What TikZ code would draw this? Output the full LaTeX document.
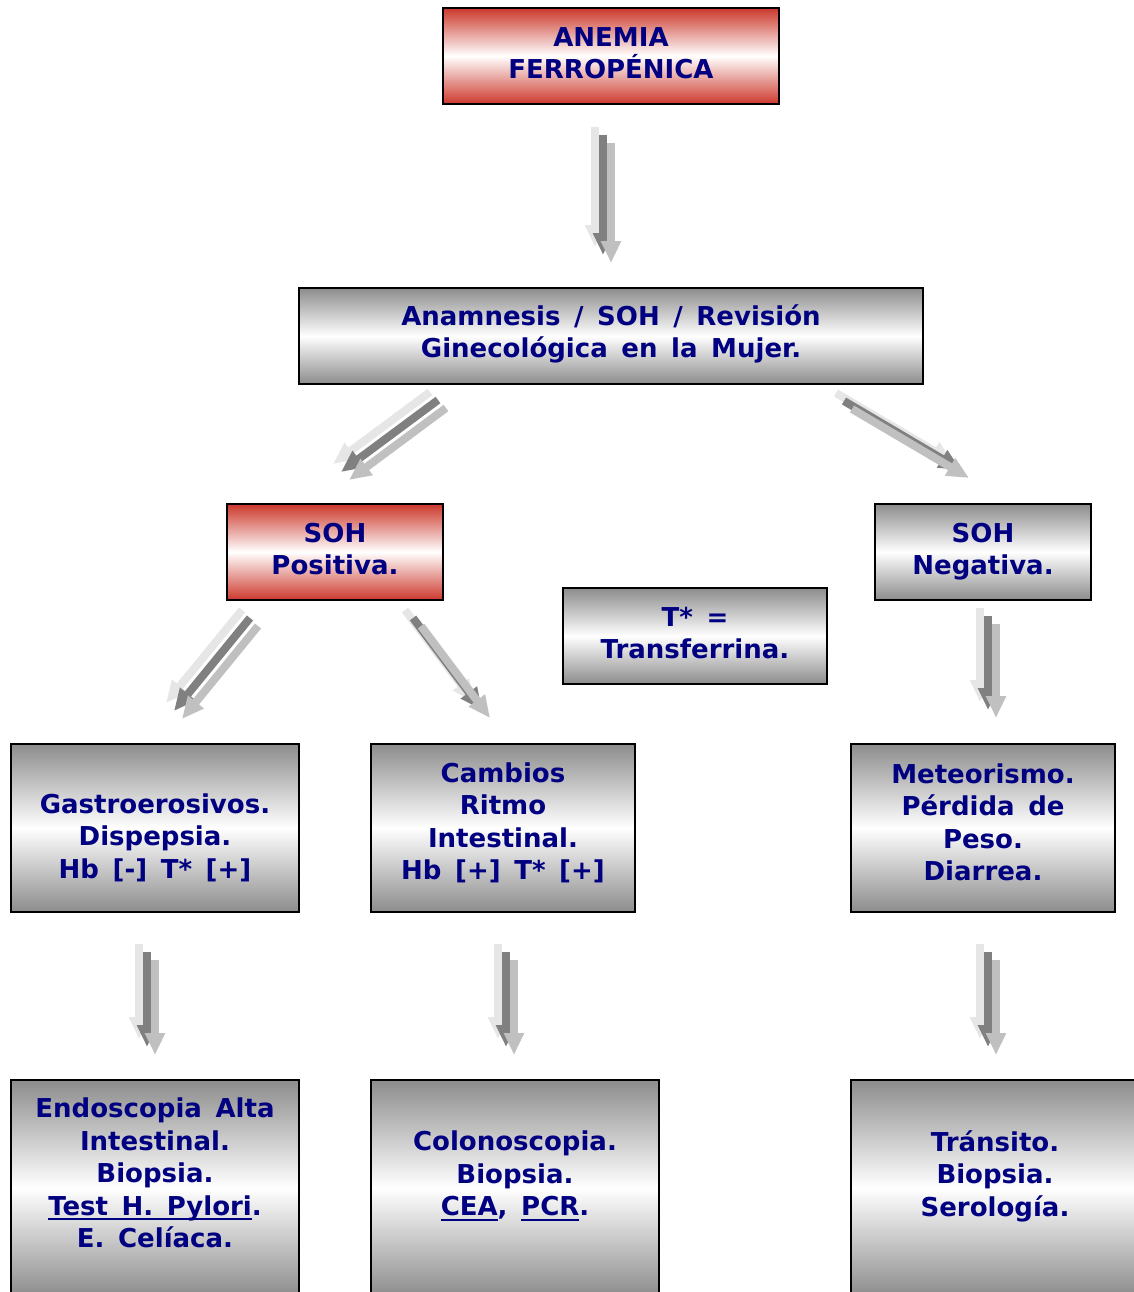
\documentclass[tikz,border=0pt]{standalone}
\usepackage{fontspec}
\usetikzlibrary{arrows.meta}

\newfontfamily\verdana[WordSpace=1.5]{DejaVu Sans}
% 下划线（粗一点）
\newcommand{\subr}[1]{\setbox0\hbox{#1}\rlap{\rule[-5pt]{\wd0}{2pt}}\box0}

\definecolor{azul}{RGB}{0,0,128}
\definecolor{rojo}{RGB}{204,56,44}
\definecolor{grisbox}{RGB}{140,140,140}
\definecolor{gris1}{RGB}{230,230,230}
\definecolor{gris2}{RGB}{128,128,128}
\definecolor{gris3}{RGB}{192,192,192}

\tikzset{
  caja/.style={draw=black, line width=2.2pt, align=center, inner sep=0pt,
    text=azul, font=\verdana\bfseries\fontsize{26}{32.5}\selectfont},
  cajaroja/.style={caja, top color=rojo, bottom color=rojo, middle color=white},
  cajagris/.style={caja, top color=grisbox, bottom color=grisbox, middle color=white},
  % 文字上移：末行加深度
  subir/.style={execute at end node={\rule[-#1]{0pt}{0pt}}},
  flecha/.style={line width=8pt, -{Triangle[width=19pt,length=22pt]}},
}

% 三层灰色箭头：浅 / 深 / 中，各错开 (8,8)
\newcommand{\flechas}[2]{%
  \draw[flecha, gris1] (#1) -- (#2);
  \draw[flecha, gris2, transform canvas={shift={(8,8)}}] (#1) -- (#2);
  \draw[flecha, gris3, transform canvas={shift={(16,16)}}] (#1) -- (#2);
}

\begin{document}
\begin{tikzpicture}[x=1pt, y=-1pt]

  %% ════ 方框 ════
  \node[cajaroja, subir=6pt, minimum width=336pt, minimum height=96pt] (anemia) at (611,56)
    {ANEMIA\\FERROPÉNICA};
  \node[cajagris, subir=9.5pt, minimum width=624pt, minimum height=96pt] (anamnesis) at (611,336)
    {Anamnesis / SOH / Revisión\\Ginecológica en la Mujer.};
  \node[cajaroja, subir=6pt, minimum width=216pt, minimum height=96pt] (sohpos) at (335,552)
    {SOH\\Positiva.};
  \node[cajagris, subir=6pt, minimum width=216pt, minimum height=96pt] (sohneg) at (983,552)
    {SOH\\Negativa.};
  \node[cajagris, subir=6pt, minimum width=264pt, minimum height=96pt] (transf) at (695,636)
    {T* =\\Transferrina.};
  % 这个框文字偏下：首行加高度
  \node[cajagris, minimum width=288pt, minimum height=168pt] (gastro) at (155,828)
    {\rule{0pt}{39pt}Gastroerosivos.\\Dispepsia.\\Hb [-] T* [+]};
  \node[cajagris, subir=13.4pt, minimum width=264pt, minimum height=168pt] (cambios) at (503,828)
    {Cambios\\Ritmo\\Intestinal.\\Hb [+] T* [+]};
  \node[cajagris, subir=12pt, minimum width=264pt, minimum height=168pt] (meteor) at (983,828)
    {Meteorismo.\\Pérdida de\\Peso.\\Diarrea.};
  \node[cajagris, subir=30pt, minimum width=288pt, minimum height=216pt] (endosc) at (155,1188)
    {Endoscopia Alta\\Intestinal.\\Biopsia.\\\subr{Test H. Pylori}.\\E. Celíaca.};
  \node[cajagris, subir=29pt, minimum width=288pt, minimum height=216pt] (colono) at (515,1188)
    {Colonoscopia.\\Biopsia.\\\subr{CEA}, \subr{PCR}.};
  \node[cajagris, subir=29.5pt, minimum width=288pt, minimum height=216pt] (transito) at (995,1188)
    {Tránsito.\\Biopsia.\\Serología.};

  %% ════ 箭头端点 ════
  \coordinate (a1) at (595,127);  \coordinate (b1) at (595,247);
  \coordinate (a2) at (430,392);  \coordinate (b2) at (333,464);
  \coordinate (a3) at (836,393);  \coordinate (b3) at (953,462);
  \coordinate (a4) at (242,610);  \coordinate (b4) at (166,703);
  \coordinate (a5) at (405,610);  \coordinate (b5) at (474,702);
  \coordinate (a6) at (980,608);  \coordinate (b6) at (980,702);
  \coordinate (a7) at (139,944);  \coordinate (b7) at (139,1039);
  \coordinate (a8) at (498,944);  \coordinate (b8) at (498,1039);
  \coordinate (a9) at (980,944);  \coordinate (b9) at (980,1039);

  %% ════ 箭头 ════
  \flechas{a1}{b1}
  \flechas{a2}{b2}
  \flechas{a3}{b3}
  \flechas{a4}{b4}
  \flechas{a5}{b5}
  \flechas{a6}{b6}
  \flechas{a7}{b7}
  \flechas{a8}{b8}
  \flechas{a9}{b9}

  % 钉死画布（超出部分被页面裁掉）
  \pgfresetboundingbox
  \path[use as bounding box] (0,0) rectangle (1134,1292);
\end{tikzpicture}
\end{document}
